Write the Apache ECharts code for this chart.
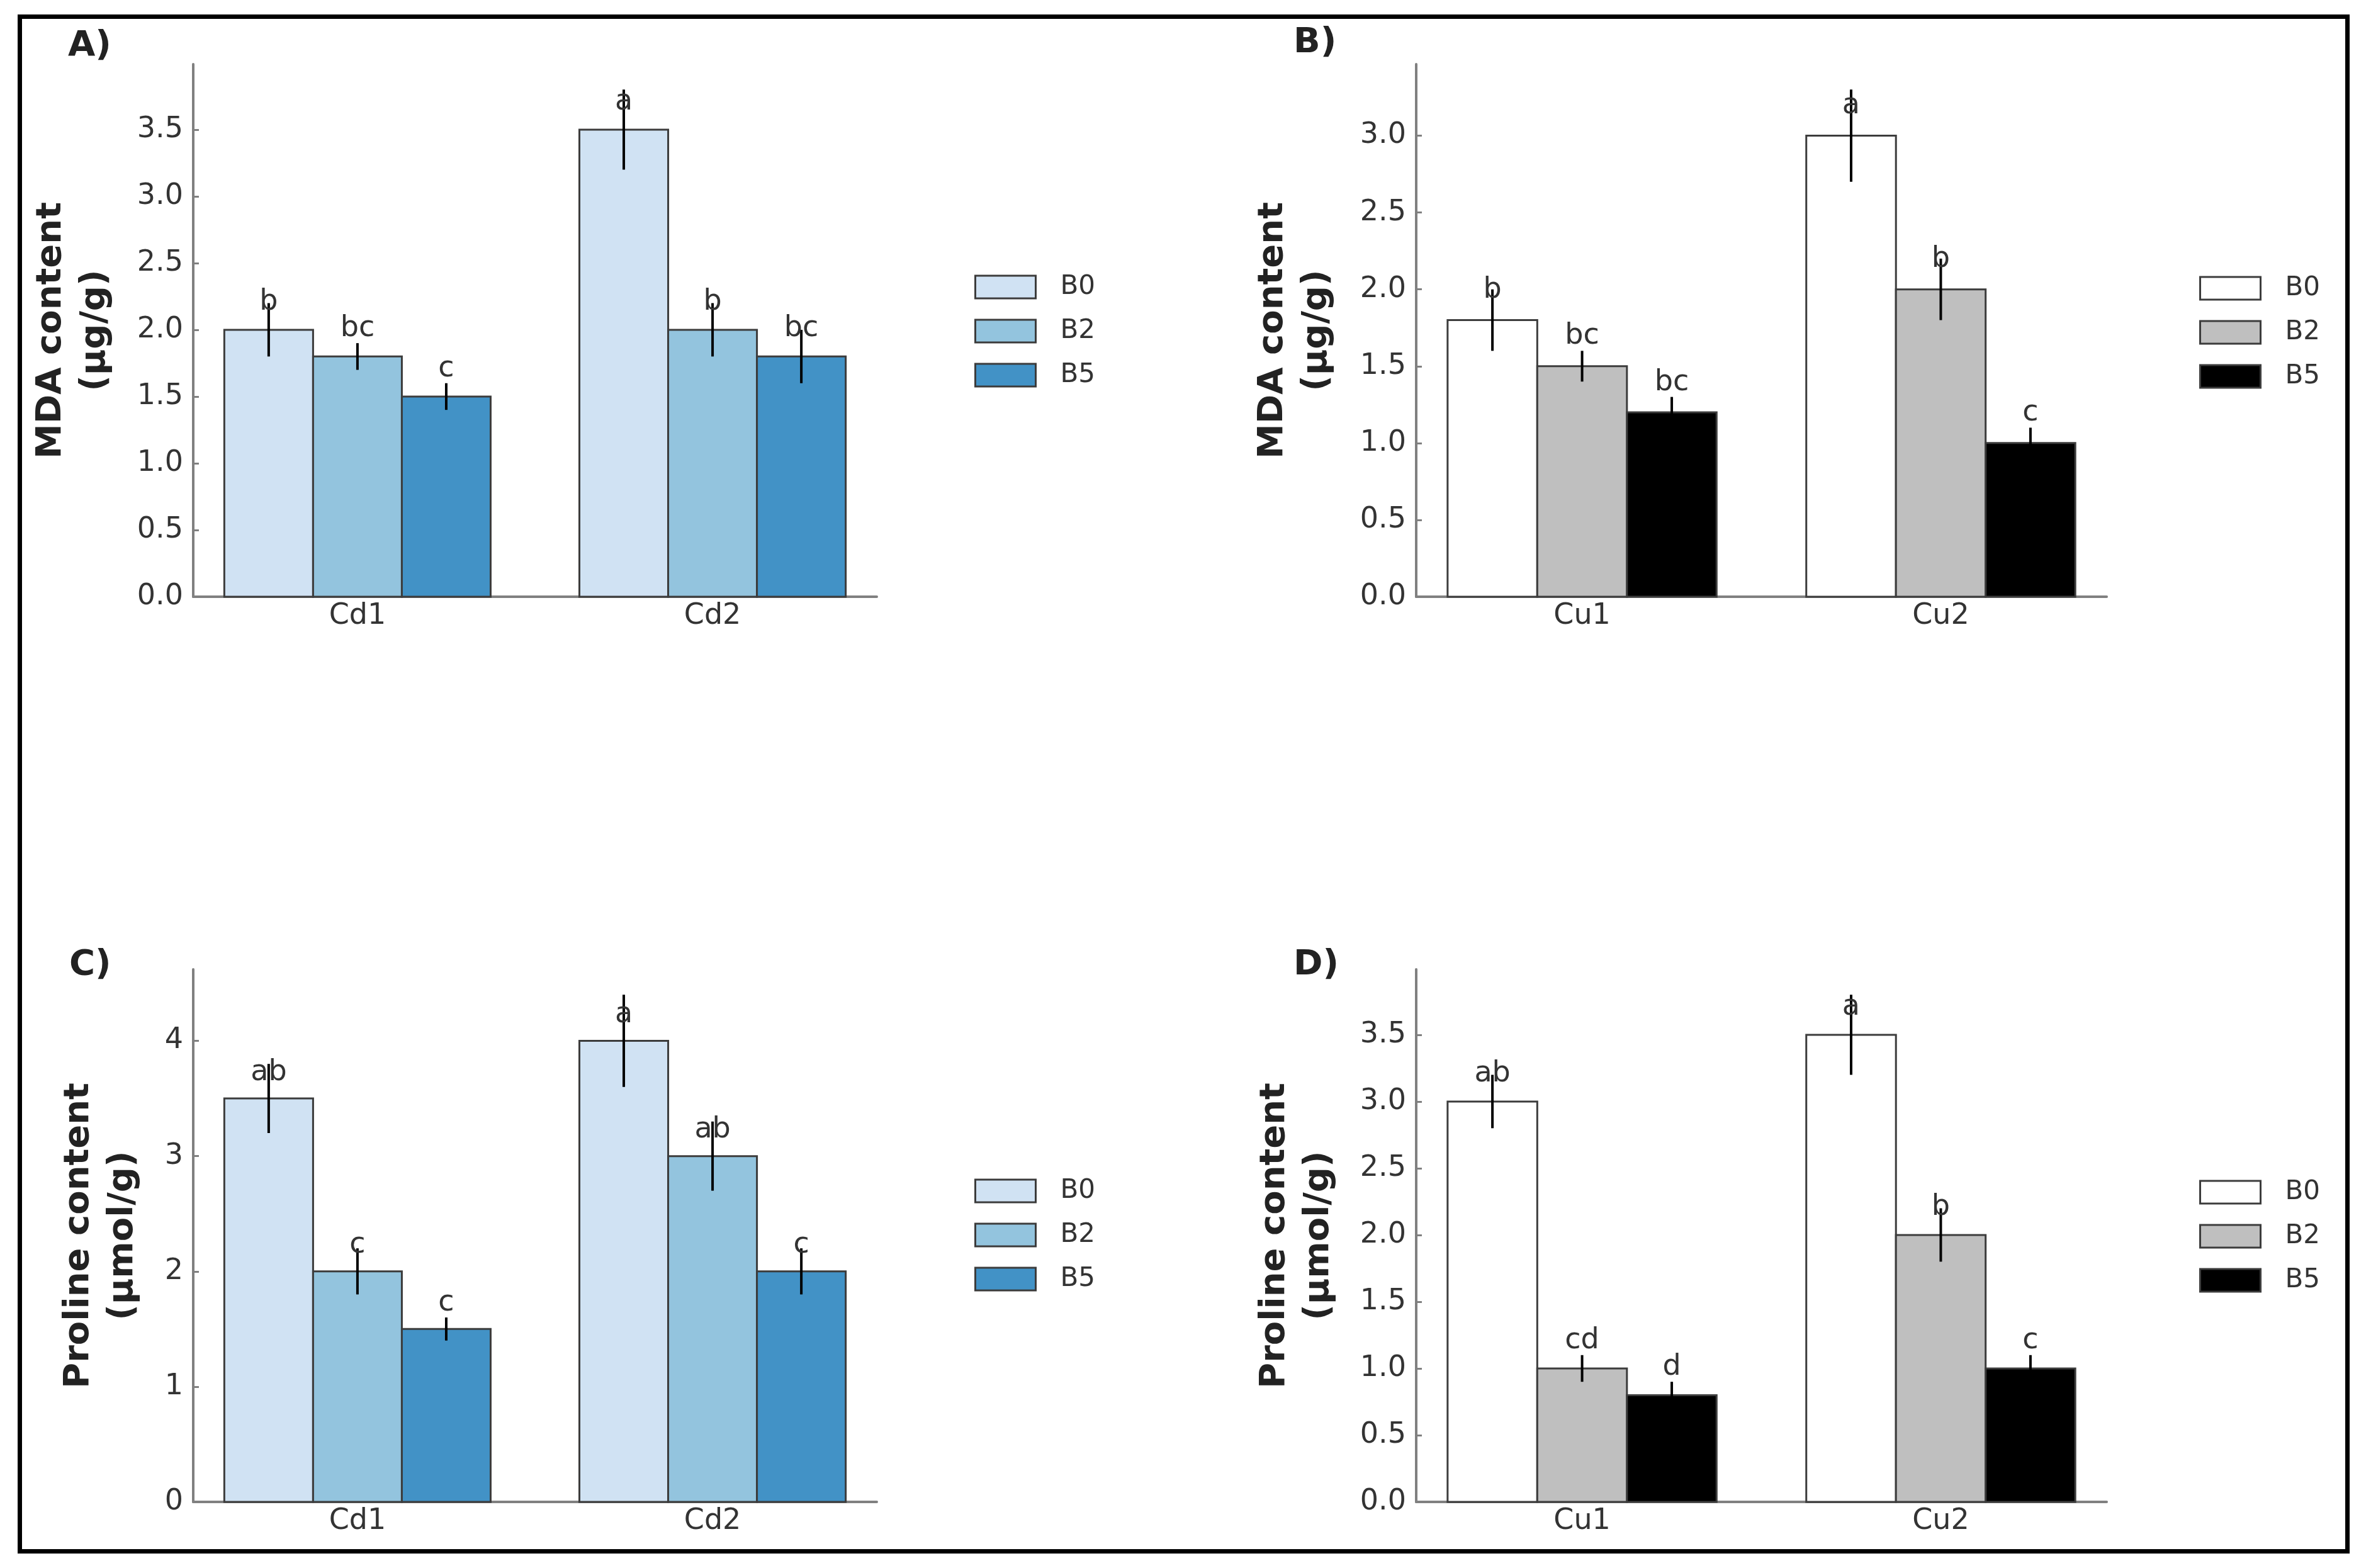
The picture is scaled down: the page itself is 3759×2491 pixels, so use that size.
<!DOCTYPE html>
<html>
<head>
<meta charset="utf-8">
<title>MDA and proline content</title>
<script src="https://cdn.jsdelivr.net/npm/echarts@6/dist/echarts.min.js"></script>
<style>
  html, body { margin: 0; padding: 0; background: #fff; }
  #main { width: 3759px; height: 2491px; }
</style>
</head>
<body>
<div id="main"></div>
<script>
// categories and treatments
var cdCats = ['Cd1', 'Cd2'];
var cuCats = ['Cu1', 'Cu2'];
var levels = ['B0', 'B2', 'B5'];

// rows: B0, B2, B5 -- columns: the two metal doses
var mdaCdMean = [[2.0, 3.5], [1.8, 2.0], [1.5, 1.8]];
var mdaCdErr  = [[0.2, 0.3], [0.1, 0.2], [0.1, 0.2]];
var mdaCdSig  = [['b', 'a'], ['bc', 'b'], ['c', 'bc']];

var mdaCuMean = [[1.8, 3.0], [1.5, 2.0], [1.2, 1.0]];
var mdaCuErr  = [[0.2, 0.3], [0.1, 0.2], [0.1, 0.1]];
var mdaCuSig  = [['b', 'a'], ['bc', 'b'], ['bc', 'c']];

var proCdMean = [[3.5, 4.0], [2.0, 3.0], [1.5, 2.0]];
var proCdErr  = [[0.3, 0.4], [0.2, 0.3], [0.1, 0.2]];
var proCdSig  = [['ab', 'a'], ['c', 'ab'], ['c', 'c']];

var proCuMean = [[3.0, 3.5], [1.0, 2.0], [0.8, 1.0]];
var proCuErr  = [[0.2, 0.3], [0.1, 0.2], [0.1, 0.1]];
var proCuSig  = [['ab', 'a'], ['cd', 'b'], ['d', 'c']];

// y tick labels
var mdaCdTicks = [0, 0.5, 1, 1.5, 2, 2.5, 3, 3.5];
var mdaCuTicks = [0, 0.5, 1, 1.5, 2, 2.5, 3];
var proCdTicks = [0, 1, 2, 3, 4];
var proCuTicks = [0, 0.5, 1, 1.5, 2, 2.5, 3, 3.5];

var blues = ['#d0e2f3', '#93c4de', '#4292c6'];
var greys = ['#ffffff', '#bfbfbf', '#000000'];

var FONT = '"DejaVu Sans", sans-serif';
var BAR_W = 0.25;
var OFFSETS = [-0.25, 0, 0.25];
var EDGE = '#3c3c3c';
var AXIS = '#808080';

var panels = [
  { tag: 'A)', cats: cdCats, mean: mdaCdMean, err: mdaCdErr, sig: mdaCdSig, ticks: mdaCdTicks, digits: 1,
    ymax: 3.99, colors: blues, yName: 'MDA content\n(µg/g)', nameGap: 121,
    left: 307, top: 102, width: 1086, legLeft: 1548, legTop: 435, tagX: 108, tagY: 45 },
  { tag: 'B)', cats: cuCats, mean: mdaCuMean, err: mdaCuErr, sig: mdaCuSig, ticks: mdaCuTicks, digits: 1,
    ymax: 3.465, colors: greys, yName: 'MDA content\n(µg/g)', nameGap: 123,
    left: 2250, top: 102, width: 1097, legLeft: 3494, legTop: 437, tagX: 2055, tagY: 40 },
  { tag: 'C)', cats: cdCats, mean: proCdMean, err: proCdErr, sig: proCdSig, ticks: proCdTicks, digits: 0,
    ymax: 4.62, colors: blues, yName: 'Proline content\n(µmol/g)', nameGap: 77,
    left: 307, top: 1540, width: 1086, legLeft: 1548, legTop: 1871, tagX: 110, tagY: 1505 },
  { tag: 'D)', cats: cuCats, mean: proCuMean, err: proCuErr, sig: proCuSig, ticks: proCuTicks, digits: 1,
    ymax: 3.99, colors: greys, yName: 'Proline content\n(µmol/g)', nameGap: 120,
    left: 2250, top: 1540, width: 1097, legLeft: 3494, legTop: 1873, tagX: 2055, tagY: 1505 }
];

var grid = [], xAxis = [], yAxis = [], series = [], legend = [];
var graphic = [
  { type: 'rect', shape: { x: 31.5, y: 26.5, width: 3698, height: 2438 },
    style: { fill: null, stroke: '#000', lineWidth: 7 } }
];

panels.forEach(function (p, i) {
  grid.push({ left: p.left, top: p.top, width: p.width, height: 846 });

  xAxis.push({
    type: 'value', gridIndex: i, min: -0.4625, max: 1.4625,
    axisLine: { show: true, onZero: false, lineStyle: { color: AXIS, width: 4 } },
    axisTick: { show: true, inside: true, length: 9, customValues: [0, 1], lineStyle: { color: AXIS, width: 3 } },
    axisLabel: {
      customValues: [0, 1], margin: 8, fontSize: 46, color: '#333', fontFamily: FONT,
      formatter: function (v) { return p.cats[Math.round(v)]; }
    },
    splitLine: { show: false }
  });

  yAxis.push({
    type: 'value', gridIndex: i, min: 0, max: p.ymax,
    name: p.yName, nameLocation: 'middle', nameRotate: 90, nameGap: p.nameGap,
    nameTextStyle: { fontSize: 56, fontWeight: 'bold', lineHeight: 70, color: '#222', fontFamily: FONT },
    axisLine: { show: true, onZero: false, lineStyle: { color: AXIS, width: 4 } },
    axisTick: { show: true, inside: true, length: 9, customValues: p.ticks, lineStyle: { color: AXIS, width: 3 } },
    axisLabel: {
      customValues: p.ticks, margin: 16, fontSize: 46, color: '#333', fontFamily: FONT,
      formatter: function (v) { return v.toFixed(p.digits); }
    },
    splitLine: { show: false }
  });

  levels.forEach(function (lv, k) {
    series.push({
      type: 'custom', name: lv, xAxisIndex: i, yAxisIndex: i,
      itemStyle: { color: p.colors[k] },
      data: p.mean[k].map(function (m, j) { return [j, m, p.err[k][j]]; }),
      renderItem: function (params, api) {
        var x = api.value(0) + OFFSETS[k];
        var m = api.value(1), e = api.value(2);
        var tl = api.coord([x - BAR_W / 2, m]);
        var br = api.coord([x + BAR_W / 2, 0]);
        var hi = api.coord([x, m + e]);
        var lo = api.coord([x, m - e]);
        var lab = api.coord([x, m + 0.1]);
        return {
          type: 'group',
          children: [
            { type: 'rect', z2: 1,
              shape: { x: tl[0], y: tl[1], width: br[0] - tl[0], height: br[1] - tl[1] },
              style: { fill: p.colors[k], stroke: EDGE, lineWidth: 3 } },
            { type: 'line', z2: 5,
              shape: { x1: hi[0], y1: hi[1], x2: lo[0], y2: lo[1] },
              style: { stroke: '#000', lineWidth: 4 } },
            { type: 'text', z2: 10, x: lab[0], y: lab[1],
              style: { text: p.sig[k][params.dataIndex], fill: '#333', fontSize: 46, fontFamily: FONT,
                       align: 'center', verticalAlign: 'bottom' } }
          ]
        };
      }
    });
  });

  legend.push({
    orient: 'vertical', left: p.legLeft - 5, top: p.legTop - 5,
    icon: 'rect', itemWidth: 96, itemHeight: 36, itemGap: 28, selectedMode: false,
    textStyle: { fontSize: 42, color: '#333', fontFamily: FONT, lineHeight: 36, padding: [0, 0, 0, 34] },
    data: levels.map(function (lv, k) {
      return { name: lv, itemStyle: { color: p.colors[k], borderColor: EDGE, borderWidth: 3 } };
    })
  });

  graphic.push({
    type: 'text', left: p.tagX, top: p.tagY,
    style: { text: p.tag, fontSize: 56, fontWeight: 'bold', fontFamily: FONT, fill: '#222' }
  });
});

var myChart = echarts.init(document.getElementById('main'));
myChart.setOption({
  backgroundColor: '#fff',
  animation: false,
  grid: grid,
  xAxis: xAxis,
  yAxis: yAxis,
  legend: legend,
  graphic: graphic,
  series: series
});
</script>
</body>
</html>
